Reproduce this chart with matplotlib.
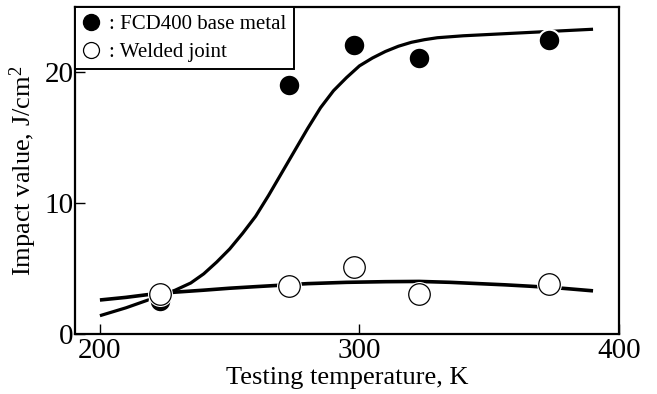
import matplotlib
matplotlib.use("Agg")
import matplotlib.pyplot as plt
from matplotlib.lines import Line2D

plt.rcParams['font.family'] = ['Liberation Serif', 'DejaVu Serif']
plt.rcParams['mathtext.fontset'] = 'custom'
plt.rcParams['mathtext.rm'] = 'Liberation Serif'
plt.rcParams['mathtext.it'] = 'Liberation Serif:italic'

# Measured data (testing temperature K, impact value J/cm2)
temps = [223, 273, 298, 323, 373]
base_metal = [2.5, 19.0, 22.1, 21.1, 22.5]
welded_joint = [3.05, 3.7, 5.1, 3.05, 3.8]

# Fitted curves
base_curve_t = [200, 205, 210, 215, 220, 225, 229, 235, 240, 245, 250, 255, 260, 265, 270,
                275, 280, 285, 290, 295, 300, 305, 310, 315, 320, 325, 330, 340, 350, 360, 370, 380, 390]
base_curve_v = [1.4, 1.7, 2.0, 2.35, 2.7, 3.05, 3.35, 3.9, 4.6, 5.5, 6.5, 7.7, 9.0, 10.6, 12.3,
                14.0, 15.7, 17.3, 18.6, 19.6, 20.5, 21.1, 21.6, 22.0, 22.3, 22.5, 22.65, 22.8, 22.9, 23.0, 23.1, 23.2, 23.3]
weld_curve_t = [200, 210, 218, 229, 240, 250, 260, 267, 280, 295, 310, 323, 335, 346, 356, 366, 378, 390]
weld_curve_v = [2.6, 2.8, 3.0, 3.2, 3.35, 3.5, 3.62, 3.7, 3.85, 3.95, 4.0, 4.02, 3.95, 3.85, 3.76, 3.65, 3.5, 3.3]

xticks = [200, 300, 400]
yticks = [0, 10, 20]

fig = plt.figure(figsize=(6.57, 3.94), dpi=100)
ax = fig.add_axes([75/657, 1-334/394, (619-75)/657, (334-7)/394])

ax.plot(base_curve_t, base_curve_v, color='black', lw=2.3, zorder=2, solid_capstyle='butt')
ax.plot(weld_curve_t, weld_curve_v, color='black', lw=2.6, zorder=2, solid_capstyle='butt')

ms = 15.5
ax.plot(temps, base_metal, 'o', ms=ms, mfc='black', mec='white', mew=1.5, zorder=3, ls='none')
ax.plot(temps, welded_joint, 'o', ms=ms + 2.5, mfc='white', mec='white', mew=0, zorder=4, ls='none')
ax.plot(temps, welded_joint, 'o', ms=ms, mfc='white', mec='black', mew=0.9, zorder=5, ls='none')

ax.set_xlim(190.4, 400)
ax.set_ylim(0, 25)
ax.set_xticks(xticks)
ax.set_yticks(yticks)
ax.tick_params(direction='in', length=7, width=1.0, labelsize=21, pad=1)
ax.tick_params(axis='x', pad=3)
for s in ax.spines.values():
    s.set_linewidth(1.6)

ax.set_xlabel('Testing temperature, K', fontsize=19, labelpad=2)
ax.set_ylabel(r'Impact value, J/cm$^{\mathrm{2}}$', fontsize=19, labelpad=4)

handles = [
    Line2D([], [], marker='o', ls='none', ms=11.5, mfc='black', mec='black'),
    Line2D([], [], marker='o', ls='none', ms=11.5, mfc='white', mec='black', mew=0.9),
]
leg = ax.legend(handles, [': FCD400 base metal', ': Welded joint'], loc='upper left',
                bbox_to_anchor=(0, 1), borderaxespad=0, fontsize=15, frameon=True,
                fancybox=False, handlelength=0.8, handletextpad=0.5, borderpad=0.35,
                labelspacing=0.4, framealpha=1)
leg.get_frame().set_edgecolor('black')
leg.get_frame().set_linewidth(1.4)
leg.set_zorder(10)

fig.savefig('out.png', dpi=100)
